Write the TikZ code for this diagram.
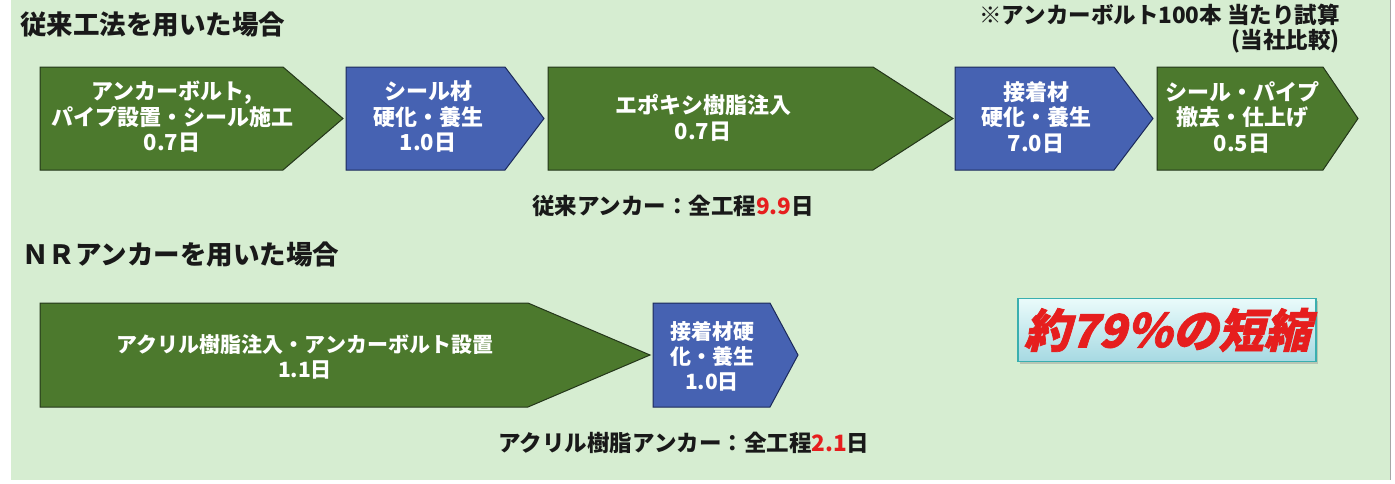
\documentclass[tikz,border=0pt]{standalone}
\usepackage{fontspec}
\newfontfamily\jp{Noto Sans CJK JP}
\newfontfamily\jpit{Noto Sans CJK JP}[FakeSlant=0.25,FakeBold=1.5]
\usetikzlibrary{shadows}
\definecolor{bgc}{HTML}{D6EDD1}
\definecolor{grn}{HTML}{4C792D}
\definecolor{blu}{HTML}{4662B2}
\definecolor{grnline}{HTML}{24361A}
\definecolor{bluline}{HTML}{1C2A5A}
\definecolor{redt}{HTML}{E61E1E}
\definecolor{boxline}{HTML}{3AAFAF}
\definecolor{boxtop}{HTML}{EAFBFB}
\definecolor{boxbot}{HTML}{A6D9E2}
\tikzset{
  greenarrow/.style={fill=grn,draw=grnline,line width=1pt,line join=miter},
  bluearrow/.style={fill=blu,draw=bluline,line width=1pt,line join=miter},
  intext/.style={text=white,align=center,font=\jp\bfseries\fontsize{22}{25.5}\selectfont,inner sep=0pt},
  intexttwo/.style={intext,font=\jp\bfseries\fontsize{21}{25}\selectfont},
  titletext/.style={text=black!90,anchor=west,font=\jp\bfseries\fontsize{26.5}{30}\selectfont,inner sep=0pt},
  notetext/.style={text=black!90,anchor=east,font=\jp\bfseries\fontsize{22.5}{26}\selectfont,inner sep=0pt},
  totaltext/.style={text=black!90,font=\jp\bfseries\fontsize{22.5}{26}\selectfont,inner sep=0pt}
}
\newcommand{\chevshape}[6]{\path[#6] (#1,#4) -- (#2,#4) -- (#3,{(#4+#5)/2}) -- (#2,#5) -- (#1,#5) -- cycle;}
\begin{document}
\begin{tikzpicture}[x=1pt,y=-1pt]
\useasboundingbox (0,0) rectangle (1395,483);
\fill[white] (0,0) rectangle (1395,483);
\fill[bgc] (11,0) rectangle (1390,480);
\draw[gray!70,line width=1.2pt] (1390.5,0) -- (1390.5,480);

% titles
\node[titletext] (t1) at (20,24) {従来工法を用いた場合};
\node[notetext] (n1) at (1340,15) {※アンカーボルト100本 当たり試算};
\node[notetext] (n2) at (1340,41) {(当社比較)};
\node[titletext] (t2) at (22,255) {ＮＲアンカーを用いた場合};

% row 1
\chevshape{40}{283}{343}{67}{170}{greenarrow}
\chevshape{346}{505}{544}{67}{170}{bluearrow}
\chevshape{548}{873}{953}{67}{170}{greenarrow}
\chevshape{955}{1114}{1153}{67}{170}{bluearrow}
\chevshape{1157}{1323}{1358}{67}{170}{greenarrow}
\node[intext] (a1) at (172,117) {アンカーボルト,\\パイプ設置・シール施工\\0.7日};
\node[intext] (a2) at (428,117) {シール材\\硬化・養生\\1.0日};
\node[intext] (a3) at (703,118) {エポキシ樹脂注入\\0.7日};
\node[intext] (a4) at (1036,117) {接着材\\硬化・養生\\7.0日};
\node[intext] (a5) at (1242,117) {シール・パイプ\\撤去・仕上げ\\0.5日};

\node[totaltext] (s1) at (673,206) {従来アンカー：全工程\textcolor{redt}{9.9}日};

% row 2
\chevshape{40}{528}{650}{303}{407}{greenarrow}
\chevshape{653}{770}{798}{303}{407}{bluearrow}
\node[intexttwo] (b1) at (305,357) {アクリル樹脂注入・アンカーボルト設置\\1.1日};
\node[intexttwo] (b2) at (712,356) {接着材硬\\化・養生\\1.0日};

\node[totaltext] (s2) at (684,443) {アクリル樹脂アンカー：全工程\textcolor{redt}{2.1}日};

% result box
\node[draw=boxline,line width=1.5pt,top color=boxtop,bottom color=boxbot,
      drop shadow={shadow xshift=2pt,shadow yshift=-2pt,opacity=0.35},
      minimum width=298pt,minimum height=63pt,inner sep=0pt,
      text=redt,font=\jpit\bfseries\fontsize{46}{50}\selectfont] (r) at (1167,330) {約79％の短縮};
\end{tikzpicture}
\end{document}
